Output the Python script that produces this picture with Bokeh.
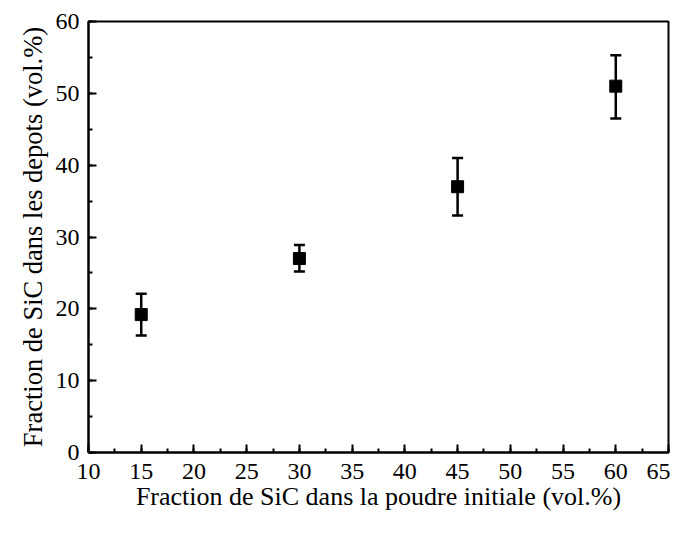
from bokeh.plotting import figure
from bokeh.models import Range1d, Whisker, TeeHead, ColumnDataSource, SingleIntervalTicker
from bokeh.embed import file_html
from bokeh.resources import INLINE

x_vals = [15, 30, 45, 60]
y_vals = [19.2, 27.0, 37.0, 51.0]
y_upper = [22.1, 28.9, 41.0, 55.3]
y_lower = [16.3, 25.2, 33.0, 46.5]

x_label = "Fraction de SiC dans la poudre initiale (vol.%)"
y_label = "Fraction de SiC dans les depots (vol.%)"

src = ColumnDataSource(dict(x=x_vals, y=y_vals, upper=y_upper, lower=y_lower))

FONT = "Liberation Serif"

p = figure(width=670, height=517, output_backend="svg", toolbar_location=None,
           x_range=Range1d(10, 65), y_range=Range1d(0, 60),
           min_border_left=88, min_border_right=2, min_border_top=21, min_border_bottom=65)

p.xgrid.visible = False
p.ygrid.visible = False
p.outline_line_color = "black"
p.outline_line_width = 2
p.outline_line_alpha = 1
p.background_fill_color = "white"
p.border_fill_color = "white"

p.xaxis.ticker = SingleIntervalTicker(interval=5, num_minor_ticks=2)
p.yaxis.ticker = SingleIntervalTicker(interval=10, num_minor_ticks=2)

p.xaxis.major_label_text_font = FONT
p.yaxis.major_label_text_font = FONT
p.xaxis.major_label_text_font_size = "24px"
p.yaxis.major_label_text_font_size = "24px"

for ax in (p.xaxis[0], p.yaxis[0]):
    ax.axis_line_width = 2
    ax.axis_line_color = "black"
    ax.major_tick_in = 8
    ax.major_tick_out = 0
    ax.minor_tick_in = 4
    ax.minor_tick_out = 0
    ax.major_tick_line_width = 2
    ax.minor_tick_line_width = 2
    ax.major_tick_line_color = "black"
    ax.minor_tick_line_color = "black"
    ax.major_label_text_color = "black"
    ax.axis_label_text_font = FONT
    ax.axis_label_text_font_style = "normal"
    ax.axis_label_text_color = "black"

p.xaxis.axis_label_text_font_size = "26px"
p.yaxis.axis_label_text_font_size = "26.5px"
p.xaxis.major_label_standoff = 11
p.yaxis.major_label_standoff = 9
p.xaxis.axis_label = x_label
p.yaxis.axis_label = y_label
p.xaxis.axis_label_standoff = 0
p.yaxis.axis_label_standoff = 5

w = Whisker(source=src, base="x", upper="upper", lower="lower",
            line_width=2.5, line_color="black",
            upper_head=TeeHead(size=11, line_width=2.5, line_color="black"),
            lower_head=TeeHead(size=11, line_width=2.5, line_color="black"))
p.add_layout(w)

p.scatter("x", "y", source=src, marker="square", size=12, fill_color="black", line_color="black")

open("out.html", "w").write(file_html(p, INLINE))
